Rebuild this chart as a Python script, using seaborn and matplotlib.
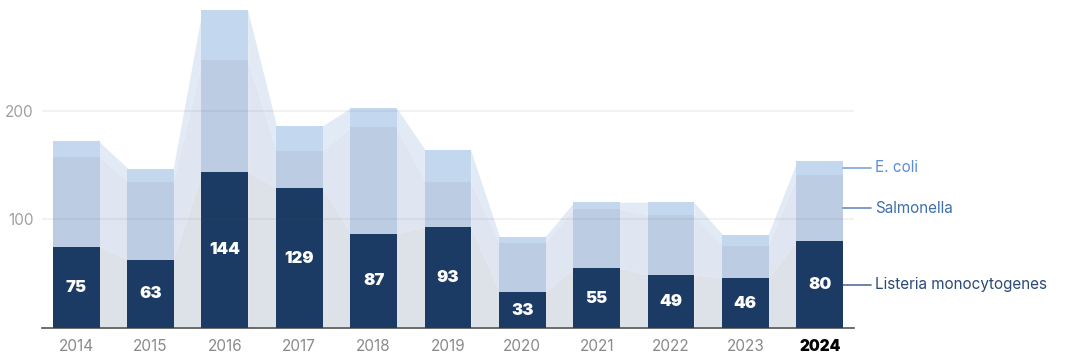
import numpy as np
import pandas as pd
import matplotlib.pyplot as plt
import seaborn as sns

sns.set_style("white")
plt.rcParams["font.family"] = ["Inter", "DejaVu Sans"]

# data (outbreak counts)
years = ["2014", "2015", "2016", "2017", "2018", "2019", "2020", "2021", "2022", "2023", "2024"]
listeria = [75, 63, 144, 129, 87, 93, 33, 55, 49, 46, 80]
salmonella = [83, 72, 103, 34, 98, 42, 45, 55, 55, 30, 61]
ecoli = [14, 12, 46, 23, 18, 29, 6, 6, 12, 10, 13]

df = pd.DataFrame({"year": years, "Listeria": listeria, "Salmonella": salmonella, "E. coli": ecoli})
df["cum_l"] = df["Listeria"]
df["cum_s"] = df["cum_l"] + df["Salmonella"]
df["cum_e"] = df["cum_s"] + df["E. coli"]

c_list = "#1b3a64"
c_salm = "#bccde3"
c_ecoli = "#c3d7ef"
bw = 0.63

fig = plt.figure(figsize=(10.71, 3.61), dpi=100)
ax = fig.add_axes([42 / 1071, 33 / 361, 812 / 1071, 328 / 361])

# stacked bars: draw cumulative totals on top of each other
sns.barplot(data=df, x="year", y="cum_e", color=c_ecoli, width=bw, saturation=1,
            linewidth=0, ax=ax, zorder=3)
sns.barplot(data=df, x="year", y="cum_s", color=c_salm, width=bw, saturation=1,
            linewidth=0, ax=ax, zorder=3)
sns.barplot(data=df, x="year", y="cum_l", color=c_list, width=bw, saturation=1,
            linewidth=0, ax=ax, zorder=3)

# bridges between neighbouring bars (tucked slightly under the bars)
for i in range(len(years) - 1):
    xs = [i + bw / 2 - 0.01, i + 1 - bw / 2 + 0.01]
    ax.fill_between(xs, df["cum_s"].iloc[i:i + 2], df["cum_e"].iloc[i:i + 2],
                    color="#e2eaf6", lw=0, zorder=1)
    ax.fill_between(xs, df["cum_l"].iloc[i:i + 2], df["cum_s"].iloc[i:i + 2],
                    color="#dfe6f1", lw=0, zorder=1)
    ax.fill_between(xs, 0, df["cum_l"].iloc[i:i + 2],
                    color="#dde1e8", lw=0, zorder=1)

# value labels inside listeria bars
for i, v in enumerate(listeria):
    ax.text(i, v / 2, str(v), ha="center", va="center", color="white",
            fontsize=12, fontweight="black", zorder=5)

# grid
for g in [100, 200]:
    ax.axhline(g, color="#555555", alpha=0.09, lw=1.2, zorder=4)

ax.set_xlim(-0.46, 10.46)
ax.set_ylim(0, 302.3)
ax.set_yticks([100, 200])
ax.set_yticklabels(["100", "200"])
ax.tick_params(axis="y", length=0, pad=6, labelsize=11, labelcolor="#a0a0a0")
ax.tick_params(axis="x", length=0, pad=8, labelsize=11, labelcolor="#8a8a8a")
for lab in ax.get_xticklabels():
    if lab.get_text() == "2024":
        lab.set_fontweight("black")
        lab.set_color("black")
ax.set_xlabel("")
ax.set_ylabel("")
for s in ["top", "right", "left"]:
    ax.spines[s].set_visible(False)
ax.spines["bottom"].set_color("#555555")
ax.spines["bottom"].set_linewidth(1.2)

# series labels on the right
last = len(years) - 1
xr = last + bw / 2
series_lab = [
    ("E. coli", (df["cum_s"].iloc[last] + df["cum_e"].iloc[last]) / 2, "#5a8fd6"),
    ("Salmonella", (df["cum_l"].iloc[last] + df["cum_s"].iloc[last]) / 2, "#3f6fae"),
    ("Listeria monocytogenes", df["cum_l"].iloc[last] / 2, "#2a4a78"),
]
for name, y, col in series_lab:
    ax.plot([xr, xr + 0.38], [y, y], color=col, lw=1.2, alpha=0.8, clip_on=False, zorder=4)
    ax.text(xr + 0.43, y, name, ha="left", va="center", color=col, fontsize=11)

fig.savefig("out.png", dpi=100)
